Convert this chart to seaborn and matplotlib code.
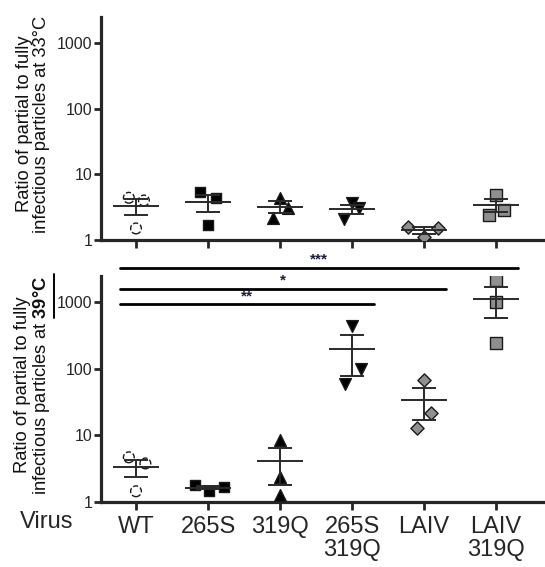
import numpy as np
import pandas as pd
import matplotlib.pyplot as plt
import seaborn as sns
from matplotlib.ticker import NullLocator, FixedLocator, FixedFormatter
from matplotlib.lines import Line2D

sns.set_style("ticks")
plt.rcParams['font.family'] = ['Liberation Sans', 'DejaVu Sans']
plt.rcParams['mathtext.fontset'] = 'custom'
plt.rcParams['mathtext.rm'] = 'Liberation Sans'
plt.rcParams['mathtext.bf'] = 'Liberation Sans:bold'

# --- data ---
viruses = ["WT", "265S", "319Q", "265S\n319Q", "LAIV", "LAIV\n319Q"]
ratio_33 = [[4.4, 4.0, 1.5], [5.3, 4.3, 1.7], [4.4, 3.1, 2.2],
            [3.7, 3.1, 2.1], [1.6, 1.5, 1.1], [4.9, 2.9, 2.4]]
ratio_39 = [[4.7, 3.8, 1.45], [1.8, 1.7, 1.45], [8.7, 2.4, 1.27],
            [440, 100, 60], [68, 22, 13], [2150, 1000, 245]]
# significance bars: (last group index, label)
sig_bars = [(5, "***"), (4, "*"), (3, "**")]

# horizontal scatter of the points (category units)
offsets_33 = [[-0.1, 0.11, 0.0], [-0.11, 0.11, 0.0], [0.0, 0.11, -0.1],
              [0.0, 0.1, -0.11], [-0.22, 0.19, 0.0], [0.0, 0.11, -0.1]]
offsets_39 = [[-0.1, 0.13, 0.0], [-0.18, 0.22, 0.02], [0.0, 0.0, 0.0],
              [0.0, 0.12, -0.1], [0.0, 0.1, -0.1], [0.0, 0.0, 0.0]]

markers = ['o', 's', '^', 'v', 'D', 's']
faces = ['white', 'black', 'black', 'black', '#8f8f8f', '#8f8f8f']
sizes = [60, 62, 72, 72, 45, 68]


def long_table(values, offsets):
    rows = []
    for i, v in enumerate(viruses):
        for val, off in zip(values[i], offsets[i]):
            rows.append({'virus': v, 'pos': i, 'x': i + off, 'ratio': val})
    return pd.DataFrame(rows)


def draw_panel(ax, df, show_xlabels):
    ax.set_yscale('log')
    for i, v in enumerate(viruses):
        sub = df[df['virus'] == v]
        sns.scatterplot(data=sub, x='x', y='ratio', marker=markers[i], color=faces[i],
                        edgecolor='#1a1a1a', linewidth=1.0, s=sizes[i],
                        linestyle='--' if i == 0 else '-', ax=ax, zorder=3, legend=False)
    # mean +/- SEM
    stats = df.groupby('pos')['ratio'].agg(['mean', 'sem'])
    for pos, row in stats.iterrows():
        ax.hlines(row['mean'], pos - 0.32, pos + 0.32, color='#2a2a2a', lw=1.4, zorder=4)
        ax.errorbar(pos, row['mean'], yerr=row['sem'], fmt='none', ecolor='#2a2a2a',
                    elinewidth=1.4, capsize=8.5, capthick=1.4, zorder=4)
    ax.set_xlim(-0.486, 5.68)
    ax.set_ylim(1, 2500)
    ax.yaxis.set_major_locator(FixedLocator([1, 10, 100, 1000]))
    ax.yaxis.set_major_formatter(FixedFormatter(['1', '10', '100', '1000']))
    ax.yaxis.set_minor_locator(NullLocator())
    ax.set_xticks(range(len(viruses)))
    if show_xlabels:
        ax.set_xticklabels(viruses, fontsize=17, linespacing=1.05)
    else:
        ax.set_xticklabels([])
    ax.set_xlabel('')
    ax.set_ylabel('')
    ax.tick_params(axis='y', labelsize=11.5, length=5, width=2, pad=1)
    ax.tick_params(axis='x', length=6, width=2, pad=4)
    for s in ['left', 'bottom']:
        ax.spines[s].set_linewidth(2.3)
    sns.despine(ax=ax)


fig = plt.figure(figsize=(5.45, 5.67), dpi=100)
ax1 = fig.add_axes([101 / 545, 1 - 240 / 567, 444 / 545, 223 / 567])
ax2 = fig.add_axes([101 / 545, 1 - 502 / 567, 444 / 545, 226 / 567])

draw_panel(ax1, long_table(ratio_33, offsets_33), False)
draw_panel(ax2, long_table(ratio_39, offsets_39), True)

# y labels
fig.text(33 / 545, 1 - 124 / 567, "Ratio of partial to fully\ninfectious particles at 33°C",
         rotation=90, ha='center', va='center', fontsize=13.2, linespacing=1.0, color='#111111')
lab2 = fig.text(33 / 545, 1 - 385 / 567,
                "Ratio of partial to fully\ninfectious particles at $\\mathbf{39°C}$",
                rotation=90, ha='center', va='center', fontsize=13.2, linespacing=1.0,
                color='#111111')

# significance bars above bottom panel
bar_heights = [3330, 1620, 935]
for (last, label), h in zip(sig_bars, bar_heights):
    x0, x1 = -0.22, last + 0.3
    ax2.plot([x0, x1], [h, h], color='black', lw=2, clip_on=False)
    ax2.text((x0 + x1) / 2, h * 1.04, label, ha='center', va='bottom',
             fontsize=11, fontweight='bold', color='#1c1c3c', clip_on=False)

fig.text(20 / 545, 1 - 522 / 567, "Virus", fontsize=17, ha='left', va='center')

# underline the bold temperature
fig.canvas.draw()
r = fig.canvas.get_renderer()
ext = lab2.get_window_extent(r)
probe = fig.text(0, 0, "$\\mathbf{39°C}$", fontsize=13.2)
w = probe.get_window_extent(r).width
probe.remove()
fig.add_artist(Line2D([ext.x1 + 1.5, ext.x1 + 1.5], [ext.y1 - w, ext.y1 + 1],
                      transform=None, color='black', lw=1.4))

fig.savefig('out.png', dpi=100)
